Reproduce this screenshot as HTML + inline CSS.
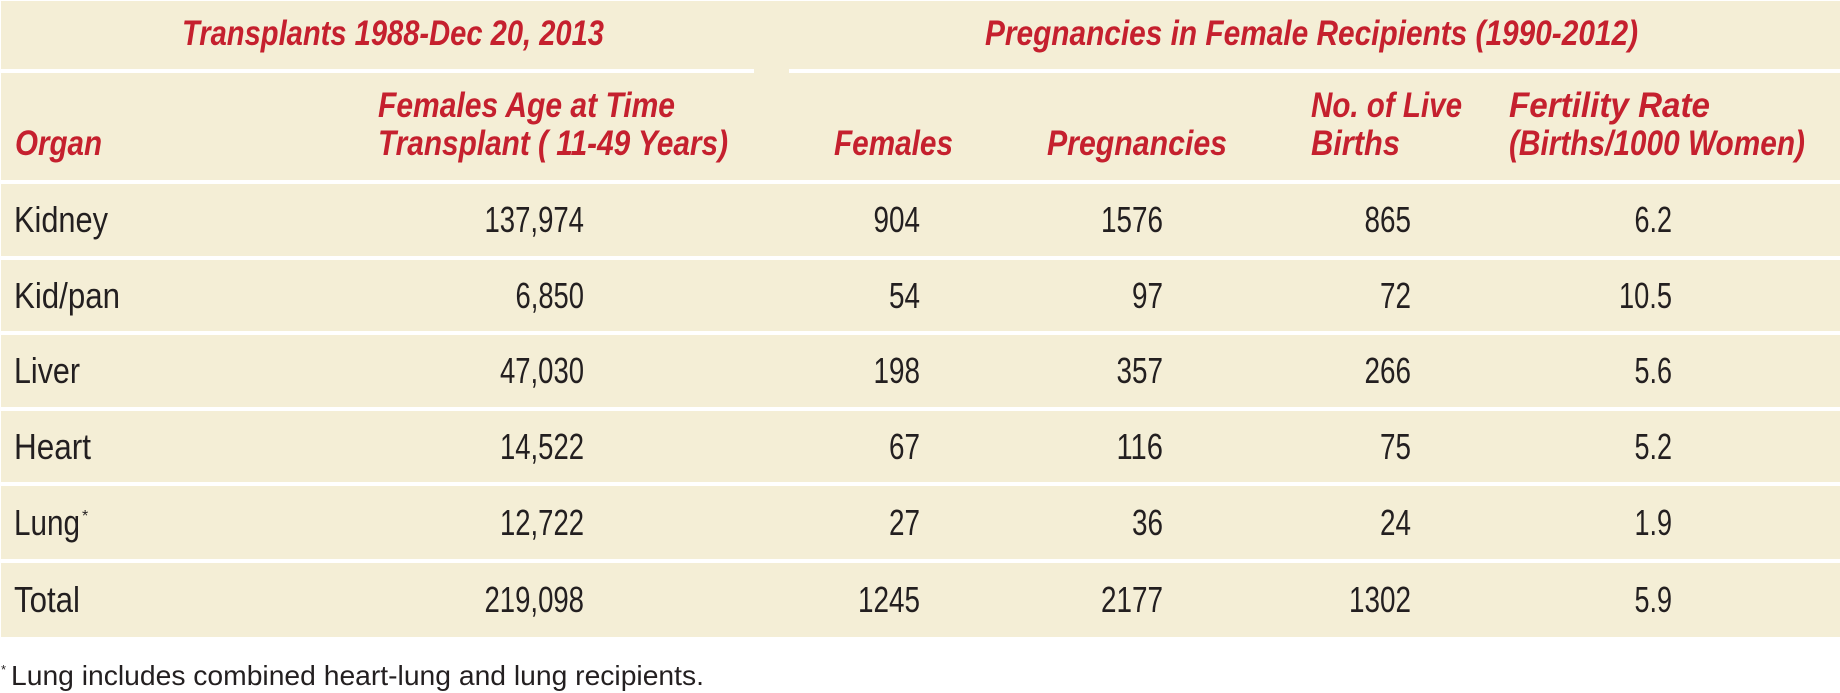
<!DOCTYPE html>
<html><head><meta charset="utf-8"><style>
html,body{margin:0;padding:0;background:#fff;}
svg{display:block;}
.h{font-family:"Liberation Sans Narrow","Liberation Sans",sans-serif;font-weight:bold;font-style:italic;fill:#c5202e;font-size:35px;}
.d{font-family:"Liberation Sans Narrow","Liberation Sans",sans-serif;fill:#231f20;font-size:36px;}
.r{text-anchor:end;}
</style></head><body>
<svg width="1840" height="693" viewBox="0 0 1840 693" xmlns="http://www.w3.org/2000/svg">
<rect x="1" y="1" width="1839" height="636" fill="#f4eed6"/>
<g fill="#ffffff">
<rect x="0" y="69" width="754" height="4"/>
<rect x="789" y="69" width="1051" height="4"/>
<rect x="0" y="180" width="1840" height="4"/>
<rect x="0" y="256" width="1840" height="4"/>
<rect x="0" y="331" width="1840" height="4"/>
<rect x="0" y="407" width="1840" height="4"/>
<rect x="0" y="482" width="1840" height="4"/>
<rect x="0" y="559" width="1840" height="4"/>
</g>
<text class="h" x="182" y="45" textLength="422" lengthAdjust="spacingAndGlyphs">Transplants 1988-Dec 20, 2013</text>
<text class="h" x="985" y="45" textLength="653" lengthAdjust="spacingAndGlyphs">Pregnancies in Female Recipients (1990-2012)</text>
<text class="h" x="15" y="155" textLength="87" lengthAdjust="spacingAndGlyphs">Organ</text>
<text class="h" x="378" y="117" textLength="297" lengthAdjust="spacingAndGlyphs">Females Age at Time</text>
<text class="h" x="378" y="155" textLength="350" lengthAdjust="spacingAndGlyphs">Transplant ( 11-49 Years)</text>
<text class="h" x="834" y="155" textLength="119" lengthAdjust="spacingAndGlyphs">Females</text>
<text class="h" x="1047" y="155" textLength="180" lengthAdjust="spacingAndGlyphs">Pregnancies</text>
<text class="h" x="1311" y="117" textLength="151" lengthAdjust="spacingAndGlyphs">No. of Live</text>
<text class="h" x="1311" y="155" textLength="89" lengthAdjust="spacingAndGlyphs">Births</text>
<text class="h" x="1509" y="117" textLength="201" lengthAdjust="spacingAndGlyphs">Fertility Rate</text>
<text class="h" x="1509" y="155" textLength="296" lengthAdjust="spacingAndGlyphs">(Births/1000 Women)</text>
<g class="d">
<text x="14" y="232" textLength="94" lengthAdjust="spacingAndGlyphs">Kidney</text>
<text class="r" x="584" y="232" textLength="99.5" lengthAdjust="spacingAndGlyphs">137,974</text><text class="r" x="920" y="232" textLength="46.5" lengthAdjust="spacingAndGlyphs">904</text><text class="r" x="1163" y="232" textLength="62" lengthAdjust="spacingAndGlyphs">1576</text><text class="r" x="1411" y="232" textLength="46.5" lengthAdjust="spacingAndGlyphs">865</text><text class="r" x="1672" y="232" textLength="37.5" lengthAdjust="spacingAndGlyphs">6.2</text>
<text x="14" y="308" textLength="106" lengthAdjust="spacingAndGlyphs">Kid/pan</text>
<text class="r" x="584" y="308" textLength="68.5" lengthAdjust="spacingAndGlyphs">6,850</text><text class="r" x="920" y="308" textLength="31" lengthAdjust="spacingAndGlyphs">54</text><text class="r" x="1163" y="308" textLength="31" lengthAdjust="spacingAndGlyphs">97</text><text class="r" x="1411" y="308" textLength="31" lengthAdjust="spacingAndGlyphs">72</text><text class="r" x="1672" y="308" textLength="53" lengthAdjust="spacingAndGlyphs">10.5</text>
<text x="14" y="383" textLength="66" lengthAdjust="spacingAndGlyphs">Liver</text>
<text class="r" x="584" y="383" textLength="84" lengthAdjust="spacingAndGlyphs">47,030</text><text class="r" x="920" y="383" textLength="46.5" lengthAdjust="spacingAndGlyphs">198</text><text class="r" x="1163" y="383" textLength="46.5" lengthAdjust="spacingAndGlyphs">357</text><text class="r" x="1411" y="383" textLength="46.5" lengthAdjust="spacingAndGlyphs">266</text><text class="r" x="1672" y="383" textLength="37.5" lengthAdjust="spacingAndGlyphs">5.6</text>
<text x="14" y="459" textLength="77" lengthAdjust="spacingAndGlyphs">Heart</text>
<text class="r" x="584" y="459" textLength="84" lengthAdjust="spacingAndGlyphs">14,522</text><text class="r" x="920" y="459" textLength="31" lengthAdjust="spacingAndGlyphs">67</text><text class="r" x="1163" y="459" textLength="46.5" lengthAdjust="spacingAndGlyphs">116</text><text class="r" x="1411" y="459" textLength="31" lengthAdjust="spacingAndGlyphs">75</text><text class="r" x="1672" y="459" textLength="37.5" lengthAdjust="spacingAndGlyphs">5.2</text>
<text x="14" y="535" textLength="66" lengthAdjust="spacingAndGlyphs">Lung</text><text x="82" y="521" style="font-size:16px">*</text>
<text class="r" x="584" y="535" textLength="84" lengthAdjust="spacingAndGlyphs">12,722</text><text class="r" x="920" y="535" textLength="31" lengthAdjust="spacingAndGlyphs">27</text><text class="r" x="1163" y="535" textLength="31" lengthAdjust="spacingAndGlyphs">36</text><text class="r" x="1411" y="535" textLength="31" lengthAdjust="spacingAndGlyphs">24</text><text class="r" x="1672" y="535" textLength="37.5" lengthAdjust="spacingAndGlyphs">1.9</text>
<text x="14" y="612" textLength="66" lengthAdjust="spacingAndGlyphs">Total</text>
<text class="r" x="584" y="612" textLength="99.5" lengthAdjust="spacingAndGlyphs">219,098</text><text class="r" x="920" y="612" textLength="62" lengthAdjust="spacingAndGlyphs">1245</text><text class="r" x="1163" y="612" textLength="62" lengthAdjust="spacingAndGlyphs">2177</text><text class="r" x="1411" y="612" textLength="62" lengthAdjust="spacingAndGlyphs">1302</text><text class="r" x="1672" y="612" textLength="37.5" lengthAdjust="spacingAndGlyphs">5.9</text>
</g>
<text class="d" x="1" y="674" style="font-size:13px">*</text>
<text class="d" x="11" y="685" style="font-size:28px" textLength="693" lengthAdjust="spacingAndGlyphs">Lung includes combined heart-lung and lung recipients.</text>
</svg>
</body></html>
